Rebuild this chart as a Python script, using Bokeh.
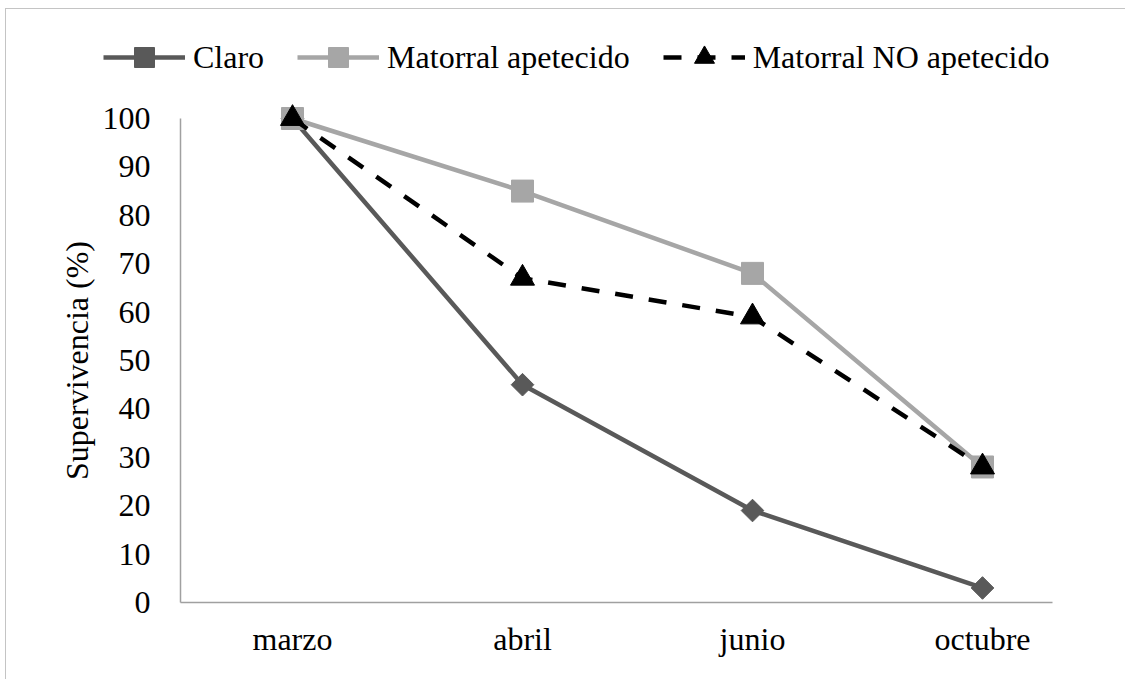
import math
from bokeh.plotting import figure
from bokeh.models import Legend, LegendItem, FixedTicker, Range1d, LinearAxis, Label
from bokeh.embed import file_html
from bokeh.resources import INLINE

meses = ["marzo", "abril", "junio", "octubre"]
claro = [100, 45, 19, 3]
apetecido = [100, 85, 68, 28]
no_apetecido = [100, 67, 59, 28]
y_ticks = [0, 10, 20, 30, 40, 50, 60, 70, 80, 90, 100]
series_names = ["Claro", "Matorral apetecido", "Matorral NO apetecido"]
y_title = "Supervivencia (%)"

FONT = "Liberation Serif"
x = list(range(len(meses)))

c1 = "#595959"
c2 = "#a6a6a6"
c3 = "#000000"
AXC = "#a0a0a0"
LW = 4.5

# frame: x 60..1100 px, y 25..620 px (page); categories every 230 px from 292; y=0 at 602
X0, X1 = -1.0087, 3.5130
Y0, Y1 = -3.719, 119.215
AX_LEFT = -0.487      # data x of the y axis line
AX_RIGHT = 3.304      # data x where the x axis line ends
LBL_X = -0.6174       # data x 30 px left of the axis line (tick labels end here)
TITLE_X = -0.9348     # data x of the y title centre

p = figure(width=1120, height=671, output_backend="svg", toolbar_location=None,
           x_range=Range1d(X0, X1), y_range=Range1d(Y0, Y1),
           min_border_left=54, min_border_right=26, min_border_top=16, min_border_bottom=60)
p.styles = {"border-top": "1px solid #c4c4c4", "border-left": "1px solid #c4c4c4",
            "margin-top": "8px", "margin-left": "5px"}
p.outline_line_color = None
p.xgrid.visible = False
p.ygrid.visible = False
p.background_fill_color = "white"
p.border_fill_color = "white"

# x axis: category labels (below panel, no line)
xa = p.xaxis[0]
xa.ticker = FixedTicker(ticks=x)
xa.major_label_overrides = {i: m for i, m in enumerate(meses)}
xa.major_label_standoff = 0
xa.axis_line_color = None

# y axis: tick labels (no line)
ya = p.yaxis[0]
ya.fixed_location = LBL_X
ya.ticker = FixedTicker(ticks=y_ticks)
ya.major_label_standoff = 0
ya.axis_line_color = None

for ax in (xa, ya):
    ax.major_tick_line_color = None
    ax.minor_tick_line_color = None
    ax.major_tick_out = 0
    ax.major_tick_in = 0
    ax.major_label_text_font = FONT
    ax.major_label_text_font_size = "32px"
    ax.major_label_text_color = "black"

# axis lines: y from 0 to 100, x from the y axis to the end
yl = LinearAxis(fixed_location=AX_LEFT, bounds=(0, 100), ticker=FixedTicker(ticks=[]),
                axis_line_color=AXC, axis_line_width=1.5, major_tick_line_color=None,
                minor_tick_line_color=None, major_tick_out=0, major_tick_in=0,
                major_label_text_font_size="0px")
p.add_layout(yl, "right")
xl = LinearAxis(fixed_location=0, bounds=(AX_LEFT, AX_RIGHT), ticker=FixedTicker(ticks=[]),
                axis_line_color=AXC, axis_line_width=1.5, major_tick_line_color=None,
                minor_tick_line_color=None, major_tick_out=0, major_tick_in=0,
                major_label_text_font_size="0px")
p.add_layout(xl, "above")

p.add_layout(Label(x=TITLE_X, y=50, text=y_title, angle=math.pi / 2, text_align="center",
                   text_baseline="middle", text_font=FONT, text_font_size="32px",
                   text_color="black"))

l1 = p.line(x, claro, line_color=c1, line_width=LW)
m1 = p.scatter(x, claro, marker="square", angle=math.pi / 4, size=16, fill_color=c1, line_color=c1)
l2 = p.line(x, apetecido, line_color=c2, line_width=LW)
m2 = p.scatter(x, apetecido, marker="square", size=22, fill_color=c2, line_color=c2)
l3 = p.line(x, no_apetecido, line_color=c3, line_width=LW, line_dash="18 16")
m3 = p.scatter(x, no_apetecido, marker="triangle", size=24, fill_color=c3, line_color=c3)

legend = Legend(items=[
    LegendItem(label=series_names[0], renderers=[l1, m1]),
    LegendItem(label=series_names[1], renderers=[l2, m2]),
    LegendItem(label=series_names[2], renderers=[l3, m3]),
], orientation="horizontal", location=(43, 538))
legend.label_text_font = FONT
legend.label_text_font_size = "32px"
legend.label_text_color = "black"
legend.glyph_width = 82
legend.glyph_height = 50
legend.label_standoff = 8
legend.spacing = 33
legend.padding = 0
legend.margin = 0
legend.border_line_color = None
legend.background_fill_alpha = 0
p.add_layout(legend, "center")

open("out.html", "w").write(file_html(p, INLINE))
